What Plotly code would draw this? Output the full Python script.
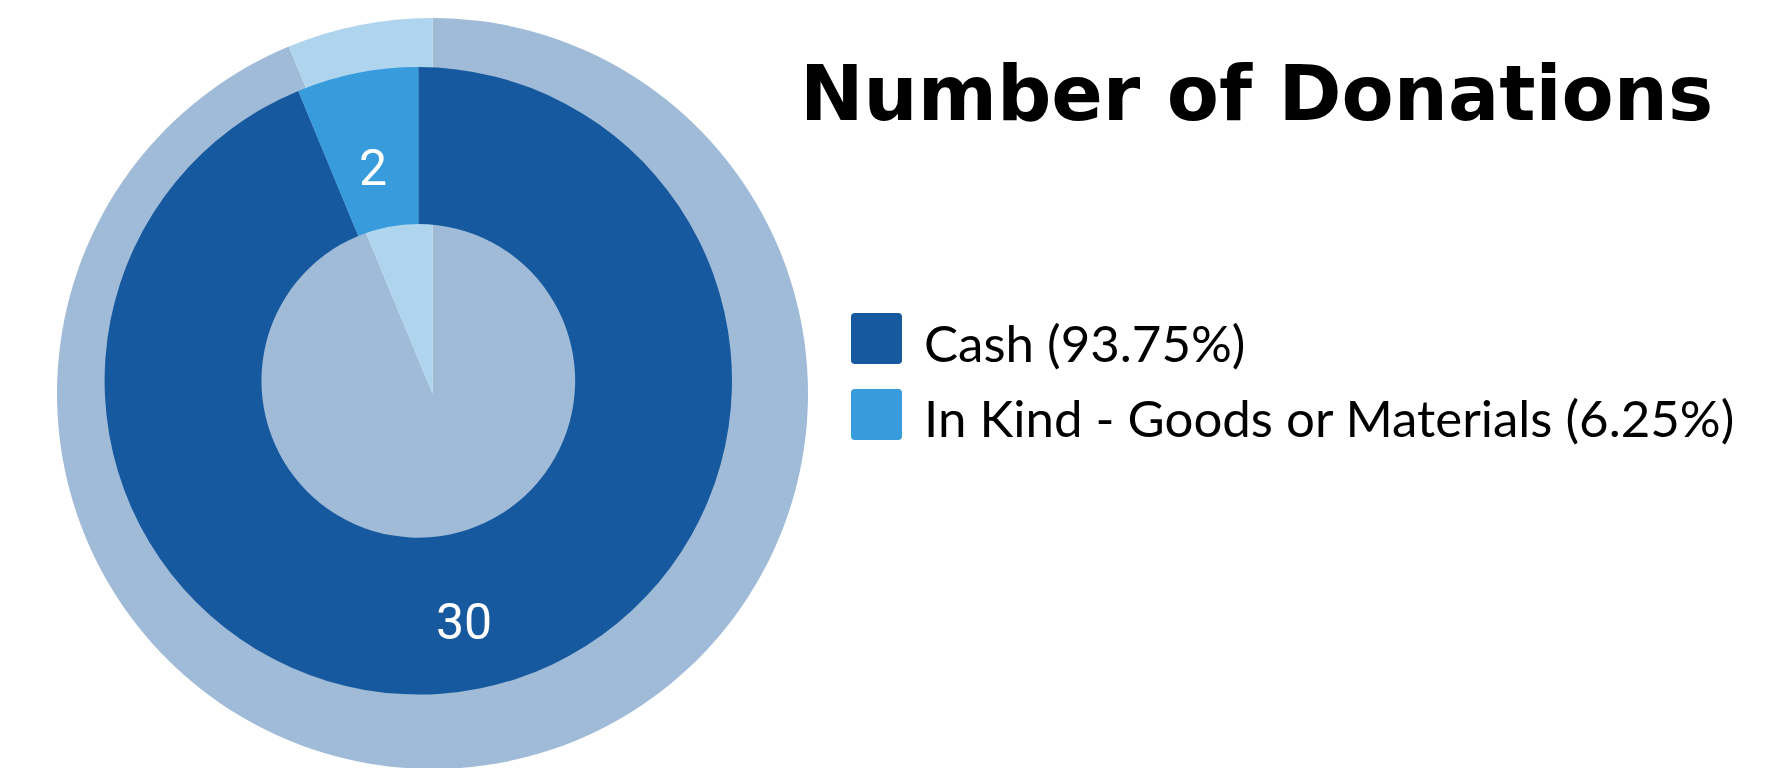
import math
import plotly.graph_objects as go

# ---- data ----
categories = ["Cash", "In Kind - Goods or Materials"]
values = [30, 2]
colors = ["#17599f", "#389bdb"]
bg_colors = ["#9fbbd8", "#aed4ee"]
title_text = "Number of Donations"

# page body has an 8px margin; work in window pixels and convert
OFF = 8
W, H = 1774, 762

def px_x(x):
    return (x - OFF) / W

def px_y(y):
    return 1 - (y - OFF) / H

total = sum(values)

fig = go.Figure()

# background full pie (larger, pale)
bg_cx, bg_cy, bg_r = 432.5, 393.5, 375.5
fig.add_trace(go.Pie(
    labels=categories, values=values, sort=False, direction="clockwise",
    marker=dict(colors=bg_colors, line=dict(width=0)),
    textinfo="none", hoverinfo="skip", showlegend=False,
    domain=dict(x=[px_x(bg_cx - bg_r), px_x(bg_cx + bg_r)],
                y=[max(0.0, px_y(bg_cy + bg_r)), px_y(bg_cy - bg_r)]),
))

# main donut
cx, cy, r = 418.3, 380.8, 313.7
hole = 0.5
fig.add_trace(go.Pie(
    labels=categories, values=values, sort=False, direction="clockwise",
    hole=hole,
    marker=dict(colors=colors, line=dict(width=0)),
    textinfo="none", showlegend=False,
    domain=dict(x=[px_x(cx - r), px_x(cx + r)],
                y=[px_y(cy + r), px_y(cy - r)]),
))

# value labels at the slice centroids (clockwise from 12 o'clock)
r_mid = r * (1 + hole) / 2 * 0.985
start = 0.0
for val in values:
    span = val / total * 360.0
    mid = math.radians(start + span / 2)
    lx = cx + r_mid * math.sin(mid)
    ly = cy - r_mid * math.cos(mid) + 14
    fig.add_annotation(
        x=px_x(lx), y=px_y(ly), xref="paper", yref="paper",
        xanchor="center", yanchor="middle", showarrow=False,
        text=str(val),
        font=dict(family="Roboto, Open Sans, sans-serif", size=50, color="white"),
    )
    start += span

# title
fig.add_annotation(
    x=px_x(797.5), y=px_y(94), xref="paper", yref="paper",
    xanchor="left", yanchor="middle", showarrow=False,
    text="<b>%s</b>" % title_text,
    font=dict(family="DejaVu Sans", size=76, color="black"),
)

# custom legend with large rounded swatches
def rounded_rect(x0, y0, x1, y1, rad):
    def P(x, y):
        return "%.6f,%.6f" % (px_x(x), px_y(y))
    pts = [
        "M" + P(x0 + rad, y0),
        "L" + P(x1 - rad, y0),
        "Q" + P(x1, y0) + " " + P(x1, y0 + rad),
        "L" + P(x1, y1 - rad),
        "Q" + P(x1, y1) + " " + P(x1 - rad, y1),
        "L" + P(x0 + rad, y1),
        "Q" + P(x0, y1) + " " + P(x0, y1 - rad),
        "L" + P(x0, y0 + rad),
        "Q" + P(x0, y0) + " " + P(x0 + rad, y0),
    ]
    return " ".join(pts) + " Z"

sw_x0, sw_size = 851, 51
row_y = [338.5, 414.5]
text_y = [342, 417.5]
for cat, val, col, yy, ty in zip(categories, values, colors, row_y, text_y):
    fig.add_shape(type="path", xref="paper", yref="paper",
                  path=rounded_rect(sw_x0, yy - sw_size / 2, sw_x0 + sw_size, yy + sw_size / 2, 4),
                  fillcolor=col, line=dict(width=0))
    pct = val / total * 100
    fig.add_annotation(
        x=px_x(922), y=px_y(ty), xref="paper", yref="paper",
        xanchor="left", yanchor="middle", showarrow=False,
        text="%s (%.2f%%)" % (cat, pct),
        font=dict(family="Lato", size=51, color="black"),
    )

fig.update_layout(
    width=W, height=H,
    margin=dict(l=0, r=0, t=0, b=0),
    paper_bgcolor="white", plot_bgcolor="white",
    showlegend=False,
)

fig.write_html("out.html")
